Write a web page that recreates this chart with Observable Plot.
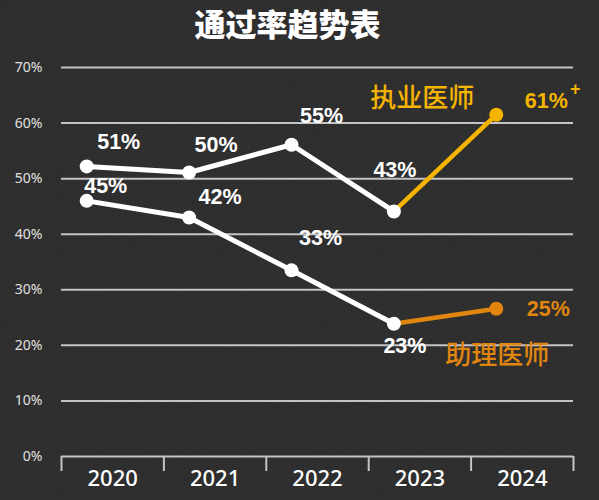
<!DOCTYPE html>
<html><head><meta charset="utf-8">
<script src="https://cdn.jsdelivr.net/npm/d3@7"></script>
<script src="https://cdn.jsdelivr.net/npm/@observablehq/plot@0.6"></script>
<style>
body{margin:0;width:599px;height:500px;overflow:hidden;
background:#272727 url("data:image/svg+xml;utf8,<svg xmlns='http://www.w3.org/2000/svg' width='599' height='500'><filter id='n'><feTurbulence type='fractalNoise' baseFrequency='0.8' numOctaves='3'/><feColorMatrix values='0 0 0 0 1 0 0 0 0 1 0 0 0 0 1 0 0 0 0.07 0'/></filter><rect width='100%' height='100%' filter='url(%23n)'/></svg>");}
#title{height:50px;line-height:48px;font:900 31px "Noto Sans CJK SC";color:#fff;text-align:center;padding-right:24px;}
</style></head><body>
<div id="title">通过率趋势表</div>
<div id="chart"></div>
<script>
const years = [2020, 2021, 2022, 2023, 2024];
const zhiye = [52.2, 51.1, 56.1, 44.1, 61.5];
const zhuli = [46.0, 43.0, 33.5, 23.9, 26.6];
const zhiyeLabels = ["51%", "50%", "55%", "43%", "61%"];
const zhuliLabels = ["45%", "42%", "33%", "23%", "25%"];
const yTicks = [0, 10, 20, 30, 40, 50, 60, 70];
const seriesNames = ["执业医师", "助理医师"];
const plusMark = "+";

const YELLOW = "#f5b400", ORANGE = "#e0860f", GRID = "#c4c4c4";
const rowsA = years.map((y, i) => ({year: y, v: zhiye[i], t: zhiyeLabels[i]}));
const rowsB = years.map((y, i) => ({year: y, v: zhuli[i], t: zhuliLabels[i]}));
const bounds = years.map(y => y - 0.5).concat([years[years.length - 1] + 0.5]);
const DX = -26;
const labelFont = {fontSize: 21.5, fontWeight: "bold", fontFamily: "Liberation Sans"};

function lab(rows, i, dx, dy, fill, extra = {}) {
  return Plot.text([rows[i]], {x: "year", y: "v", text: "t", dx, dy, fill, ...labelFont, ...extra});
}
function txt(rows, i, text, dx, dy, opts) {
  return Plot.text([rows[i]], {x: "year", y: "v", text: () => text, dx, dy, ...opts});
}

const chart = Plot.plot({
  width: 599, height: 450,
  marginLeft: 61, marginRight: 26, marginTop: 17, marginBottom: 44,
  style: {background: "transparent", fontFamily: "Noto Sans", overflow: "visible"},
  x: {type: "linear", domain: [bounds[0], bounds[bounds.length - 1]], label: null},
  y: {domain: [0, 70], label: null},
  marks: [
    Plot.ruleY(yTicks, {stroke: GRID, strokeWidth: 2}),
    Plot.axisY(yTicks, {label: null, tickSize: 0, tickPadding: 19, tickFormat: d => d + "%", fontSize: 14, fill: "#e0e0e0", fontFamily: "Noto Sans"}),
    Plot.axisX(bounds, {label: null, tickSize: 15, tickFormat: () => "", stroke: GRID, strokeWidth: 2}),
    Plot.axisX(years, {label: null, tickSize: 0, tickPadding: 14, tickFormat: d => String(d), fontSize: 22, fontWeight: 500, fill: "#fff", fontFamily: "Noto Sans"}),
    Plot.line(rowsA.filter(d => d.year <= 2023), {x: "year", y: "v", stroke: "#fff", strokeWidth: 5, dx: DX}),
    Plot.line(rowsB.filter(d => d.year <= 2023), {x: "year", y: "v", stroke: "#fff", strokeWidth: 5, dx: DX}),
    Plot.line(rowsA.filter(d => d.year >= 2023), {x: "year", y: "v", stroke: YELLOW, strokeWidth: 4.5, dx: DX}),
    Plot.line(rowsB.filter(d => d.year >= 2023), {x: "year", y: "v", stroke: ORANGE, strokeWidth: 4.5, dx: DX}),
    Plot.dot(rowsA.filter(d => d.year <= 2023), {x: "year", y: "v", r: 7, fill: "#fff", dx: DX}),
    Plot.dot(rowsB.filter(d => d.year <= 2023), {x: "year", y: "v", r: 7, fill: "#fff", dx: DX}),
    Plot.dot(rowsA.filter(d => d.year === 2024), {x: "year", y: "v", r: 7, fill: YELLOW, dx: DX}),
    Plot.dot(rowsB.filter(d => d.year === 2024), {x: "year", y: "v", r: 7, fill: ORANGE, dx: DX}),
    lab(rowsA, 0, 6, -24, "#fff"),
    lab(rowsA, 1, 1, -27, "#fff"),
    lab(rowsA, 2, 4, -29, "#fff"),
    lab(rowsA, 3, -25, -41, "#fff"),
    lab(rowsA, 4, 24, -14, YELLOW),
    txt(rowsA, 4, plusMark, 53, -26, {fill: YELLOW, fontSize: 18, fontWeight: "bold", fontFamily: "Liberation Sans"}),
    lab(rowsB, 0, -7, -15, "#fff"),
    lab(rowsB, 1, 5, -20, "#fff"),
    lab(rowsB, 2, 3, -32, "#fff"),
    lab(rowsB, 3, -15, 22, "#fff"),
    lab(rowsB, 4, 26, 0, ORANGE),
    txt(rowsA, 4, seriesNames[0], -100, -16, {fill: YELLOW, fontSize: 26, fontWeight: 500, fontFamily: "Noto Sans CJK SC"}),
    txt(rowsB, 4, seriesNames[1], -25, 47, {fill: ORANGE, fontSize: 26, fontWeight: 500, fontFamily: "Noto Sans CJK SC"})
  ]
});
document.getElementById("chart").appendChild(chart);
</script>
</body></html>
